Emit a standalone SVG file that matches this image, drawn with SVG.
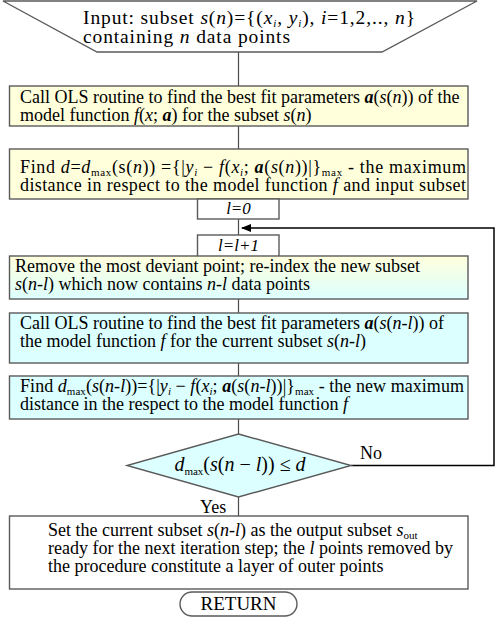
<svg xmlns="http://www.w3.org/2000/svg" width="496" height="619" viewBox="0 0 496 619">
<defs>
<linearGradient id="gy2c" x1="0" y1="0" x2="0" y2="1">
<stop offset="0" stop-color="#ffffdc"/>
<stop offset="1" stop-color="#dcffff"/>
</linearGradient>
<marker id="ah" markerWidth="10" markerHeight="8" refX="9" refY="4" orient="auto" markerUnits="userSpaceOnUse">
<path d="M0,0 L10,4 L0,8 z" fill="#000"/>
</marker>
<style>
.box{stroke:#5a5a5a;stroke-width:1.4}
.yel{fill:#ffffdc}
.cya{fill:#dcffff}
.wht{fill:#fff}
.i{font-style:italic}
.b{font-style:italic;font-weight:bold}
.s{font-size:11px}
.con{stroke:#4a4a4a;stroke-width:1.2;fill:none}
.loop{stroke:#000;stroke-width:1.5;fill:none}
</style>
</defs>
<rect width="496" height="619" fill="#fff"/>
<g font-family="'Liberation Serif', 'Times New Roman', 'DejaVu Serif', serif" font-size="18" fill="#000">

<g id="connectors">
<line class="con" x1="238.5" y1="52" x2="238.5" y2="86"/>
<line class="con" x1="238.5" y1="126" x2="238.5" y2="149"/>
<line class="con" x1="238.5" y1="219" x2="238.5" y2="235"/>
<line class="con" x1="238.5" y1="299" x2="238.5" y2="313"/>
<line class="con" x1="238.5" y1="363" x2="238.5" y2="376"/>
<line class="con" x1="238.5" y1="419" x2="238.5" y2="434"/>
<line class="con" x1="238.5" y1="497" x2="238.5" y2="516"/>
<polyline class="loop" points="351,465.5 494,465.5 494,228 242,228" marker-end="url(#ah)"/>
<text x="360" y="459">No</text>
<text x="200" y="513">Yes</text>
</g>

<g id="input">
<polygon class="box wht" points="3,1 477,1 382,52 97,52"/>
<text x="83" y="24" font-size="19.5" textLength="332" lengthAdjust="spacing">Input: subset <tspan class="i">s</tspan>(<tspan class="i">n</tspan>)={(<tspan class="i">x</tspan><tspan class="s i" dy="3">i</tspan><tspan dy="-3">, </tspan><tspan class="i">y</tspan><tspan class="s i" dy="3">i</tspan><tspan dy="-3">), </tspan><tspan class="i">i</tspan>=1,2,.., <tspan class="i">n</tspan>}</text>
<text x="83" y="43" font-size="19.5" textLength="207" lengthAdjust="spacing">containing <tspan class="i">n</tspan> data points</text>
</g>

<g id="ols1">
<rect class="box yel" x="9.5" y="86" width="458.5" height="40"/>
<text x="20" y="103">Call OLS routine to find the best fit parameters <tspan class="b">a</tspan>(<tspan class="i">s</tspan>(<tspan class="i">n</tspan>)) of the</text>
<text x="20" y="121">model function  <tspan class="i">f</tspan>(<tspan class="i">x</tspan>; <tspan class="b">a</tspan>) for the subset <tspan class="i">s</tspan>(<tspan class="i">n</tspan>)</text>
</g>

<g id="findd">
<rect class="box yel" x="9.5" y="149" width="458.5" height="50"/>
<text x="20" y="173" textLength="446" lengthAdjust="spacing">Find  <tspan class="i">d</tspan>=<tspan class="i">d</tspan><tspan class="s" dy="3">max</tspan><tspan dy="-3">(s(</tspan><tspan class="i">n</tspan>)) ={|<tspan class="i">y</tspan><tspan class="s i" dy="3">i</tspan><tspan dy="-3"> − </tspan><tspan class="i">f</tspan>(<tspan class="i">x</tspan><tspan class="s i" dy="3">i</tspan><tspan dy="-3">; </tspan><tspan class="b">a</tspan>(<tspan class="i">s</tspan>(<tspan class="i">n</tspan>))|}<tspan class="s" dy="3">max</tspan><tspan dy="-3"> - the maximum</tspan></text>
<text x="20" y="191" textLength="446" lengthAdjust="spacing">distance in respect to the model function <tspan class="i">f</tspan> and input subset</text>
</g>

<g id="l0">
<rect class="box wht" x="197.5" y="199" width="81.5" height="20"/>
<text class="i" x="238.5" y="214" text-anchor="middle" font-size="17">l=0</text>
</g>

<g id="linc">
<rect class="box wht" x="197.5" y="235" width="81.5" height="24"/>
<text class="i" x="238.5" y="251" text-anchor="middle" font-size="17">l=l+1</text>
</g>

<g id="remove">
<rect class="box" fill="url(#gy2c)" x="9.5" y="256" width="458.5" height="43"/>
<text x="15" y="272">Remove the most deviant point; re-index the new subset</text>
<text x="15" y="290"><tspan class="i">s</tspan>(<tspan class="i">n-l</tspan>) which now contains <tspan class="i">n-l</tspan> data points</text>
</g>

<g id="ols2">
<rect class="box cya" x="9.5" y="313" width="458.5" height="50"/>
<text x="20" y="329">Call OLS routine to find the best fit parameters <tspan class="b">a</tspan>(<tspan class="i">s</tspan>(<tspan class="i">n-l</tspan>)) of</text>
<text x="20" y="347">the model function  <tspan class="i">f</tspan>  for the current subset <tspan class="i">s</tspan>(<tspan class="i">n-l</tspan>)</text>
</g>

<g id="findmax">
<rect class="box cya" x="9.5" y="376" width="458.5" height="43"/>
<text x="20" y="392" textLength="444" lengthAdjust="spacing">Find  <tspan class="i">d</tspan><tspan class="s" dy="3">max</tspan><tspan dy="-3">(</tspan><tspan class="i">s</tspan>(<tspan class="i">n-l</tspan>))={|<tspan class="i">y</tspan><tspan class="s i" dy="3">i</tspan><tspan dy="-3"> − </tspan><tspan class="i">f</tspan>(<tspan class="i">x</tspan><tspan class="s i" dy="3">i</tspan><tspan dy="-3">; </tspan><tspan class="b">a</tspan>(<tspan class="i">s</tspan>(<tspan class="i">n-l</tspan>))|}<tspan class="s" dy="3">max</tspan><tspan dy="-3"> - the new maximum</tspan></text>
<text x="20" y="410">distance in the respect to the model function  <tspan class="i">f</tspan></text>
</g>

<g id="decision">
<polygon class="box cya" points="238.5,434 351,465.5 238.5,497 127,465.5"/>
<text x="240" y="471" text-anchor="middle" font-size="20"><tspan class="i">d</tspan><tspan class="s" dy="4">max</tspan><tspan dy="-4">(</tspan><tspan class="i">s</tspan>(<tspan class="i">n</tspan> − <tspan class="i">l</tspan>)) ≤ <tspan class="i">d</tspan></text>
</g>

<g id="output">
<rect class="box wht" x="9.5" y="516" width="458.5" height="73"/>
<text x="48" y="536">Set the current subset <tspan class="i">s</tspan>(<tspan class="i">n-l</tspan>) as the output subset <tspan class="i">s</tspan><tspan class="s" dy="3">out</tspan></text>
<text x="48" y="554">ready for the next iteration step; the <tspan class="i">l</tspan> points removed by</text>
<text x="48" y="572">the procedure constitute a layer of outer points</text>
</g>

<g id="return">
<rect class="box wht" x="180" y="592" width="117" height="24" rx="12" ry="12"/>
<text x="238.5" y="610" text-anchor="middle" font-size="19">RETURN</text>
</g>
</g>
</svg>
